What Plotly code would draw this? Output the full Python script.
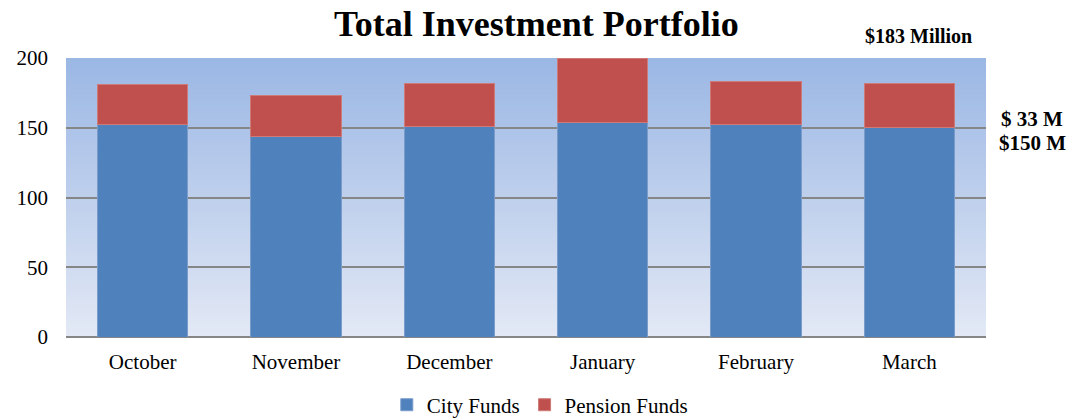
import plotly.graph_objects as go

months = ["October", "November", "December", "January", "February", "March"]
city_funds = [152, 144, 151, 154, 152, 150]
pension_funds = [29, 29, 31, 46, 31, 32]
y_ticks = [0, 50, 100, 150, 200]

FONT = "Liberation Serif, Times New Roman, serif"

fig = go.Figure()
fig.add_trace(go.Bar(x=months, y=city_funds, name="City Funds",
                     marker=dict(color="#4F81BD", line=dict(color="#7A9CCB", width=1))))
fig.add_trace(go.Bar(x=months, y=pension_funds, name="Pension Funds",
                     marker=dict(color="#C0504D", line=dict(color="#CD7A78", width=1))))

# gradient plot background
n = 70
top = (155, 183, 228)
bot = (226, 232, 245)
shapes = []
for i in range(n):
    t = i / (n - 1)
    c = tuple(round(top[k] + (bot[k] - top[k]) * t) for k in range(3))
    shapes.append(dict(type="rect", xref="paper", yref="paper",
                       x0=0, x1=1, y0=max(0, 1 - (i + 1) / n - 0.004), y1=1 - i / n,
                       fillcolor="rgb(%d,%d,%d)" % c, line=dict(width=0), layer="below"))

fig.update_layout(
    width=1082, height=418,
    barmode="stack", bargap=0.41,
    paper_bgcolor="white", plot_bgcolor="rgba(0,0,0,0)",
    margin=dict(l=66, r=96, t=58, b=81, autoexpand=False),
    font=dict(family=FONT, size=21, color="black"),
    title=dict(text="<b>Total Investment Portfolio</b>", x=0.4957, xanchor="center",
               y=0.944, yanchor="middle", font=dict(size=36, family=FONT)),
    shapes=shapes,
    showlegend=True,
    legend=dict(orientation="h", x=0.515, xanchor="center", y=-0.244, yanchor="middle",
                font=dict(size=21, family=FONT), itemwidth=30, traceorder="normal"),
    xaxis=dict(showgrid=False, ticks="", tickfont=dict(size=21), showline=False,
               automargin=False, ticklabelstandoff=10),
    yaxis=dict(range=[0, 200], tickvals=y_ticks, showgrid=True, gridcolor="#868686",
               gridwidth=2, zeroline=True, zerolinecolor="#868686", zerolinewidth=2,
               tickfont=dict(size=21), ticklabelstandoff=17, showline=False,
               automargin=False),
    annotations=[
        dict(text="<b>$183 Million</b>", xref="paper", yref="paper", x=0.927, y=1.079,
             xanchor="center", yanchor="middle", showarrow=False, font=dict(size=20, family=FONT)),
        dict(text="<b>$ 33 M</b>", xref="paper", yref="paper", x=1.05, y=0.781,
             xanchor="center", yanchor="middle", showarrow=False, font=dict(size=21, family=FONT)),
        dict(text="<b>$150 M</b>", xref="paper", yref="paper", x=1.05, y=0.695,
             xanchor="center", yanchor="middle", showarrow=False, font=dict(size=21, family=FONT)),
    ],
)
# remove the browser's default 8px body margin so the figure fills the window
fig.write_html("out.html", config={"displayModeBar": False},
               post_script="document.body.style.margin='0';")
